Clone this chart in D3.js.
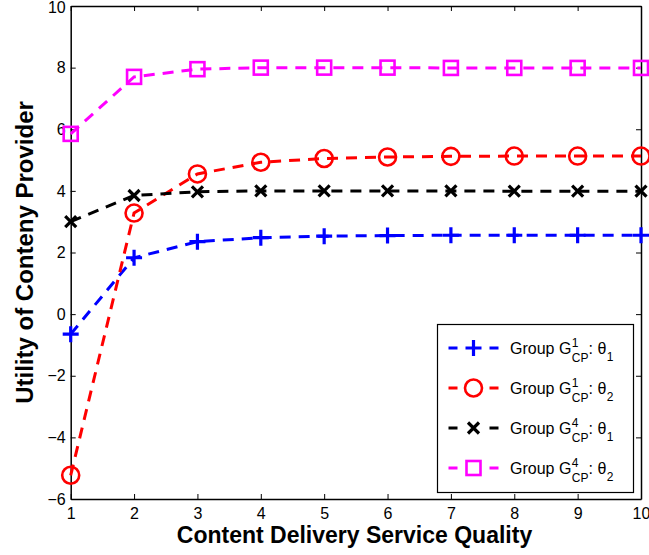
<!DOCTYPE html>
<html>
<head>
<meta charset="utf-8">
<script src="https://cdn.jsdelivr.net/npm/d3@7"></script>
<style>
  html, body { margin: 0; padding: 0; background: #fff; }
  svg { display: block; font-family: "Liberation Sans", Arial, Helvetica, sans-serif; }
</style>
</head>
<body>
<svg id="chart" width="649" height="555"></svg>
<script>
// Service quality levels on the x axis
const quality = [1, 2, 3, 4, 5, 6, 7, 8, 9, 10];

// Utility of the content provider for each group / type
const g1Theta1 = [-0.65, 1.83, 2.35, 2.48, 2.53, 2.55, 2.56, 2.56, 2.56, 2.56];
const g1Theta2 = [-5.23, 3.28, 4.55, 4.93, 5.05, 5.10, 5.12, 5.13, 5.13, 5.13];
const g4Theta1 = [3.00, 3.85, 3.97, 4.00, 4.00, 4.00, 4.00, 3.99, 3.99, 3.99];
const g4Theta2 = [5.85, 7.70, 7.95, 8.00, 8.00, 8.00, 7.99, 7.99, 7.99, 7.99];

const xTicks = [1, 2, 3, 4, 5, 6, 7, 8, 9, 10];
const yTicks = [-6, -4, -2, 0, 2, 4, 6, 8, 10];

const series = [
  { values: g1Theta1, color: "#0000ff", marker: "plus",   sup: "1", sub: "1" },
  { values: g1Theta2, color: "#ff0000", marker: "circle", sup: "1", sub: "2" },
  { values: g4Theta1, color: "#000000", marker: "cross",  sup: "4", sub: "1" },
  { values: g4Theta2, color: "#ff00ff", marker: "square", sup: "4", sub: "2" }
];

const svg = d3.select("#chart");
const plot = { left: 70.7, right: 641, top: 6, bottom: 499 };

const x = d3.scaleLinear().domain([1, 10]).range([plot.left, plot.right]);
const y = d3.scaleLinear().domain([-6, 10]).range([plot.bottom, plot.top]);

// Axes with inward ticks on all four sides (boxed frame)
const tickLen = 5;
const axisFont = "16px";

const bottomAxis = svg.append("g")
  .attr("transform", `translate(0,${plot.bottom})`)
  .call(d3.axisBottom(x).tickValues(xTicks).tickSizeInner(-tickLen).tickSizeOuter(0).tickPadding(9).tickFormat(d3.format("d")));
const topAxis = svg.append("g")
  .attr("transform", `translate(0,${plot.top})`)
  .call(d3.axisTop(x).tickValues(xTicks).tickSizeInner(-tickLen).tickSizeOuter(0).tickFormat(""));
const leftAxis = svg.append("g")
  .attr("transform", `translate(${plot.left},0)`)
  .call(d3.axisLeft(y).tickValues(yTicks).tickSizeInner(-tickLen).tickSizeOuter(0).tickPadding(5)
    .tickFormat(d => d < 0 ? "\u2212" + Math.abs(d) : String(d)));
const rightAxis = svg.append("g")
  .attr("transform", `translate(${plot.right},0)`)
  .call(d3.axisRight(y).tickValues(yTicks).tickSizeInner(-tickLen).tickSizeOuter(0).tickFormat(""));

[bottomAxis, topAxis, leftAxis, rightAxis].forEach(g => {
  g.select(".domain").attr("stroke", "#000").attr("stroke-width", 1.5);
  g.selectAll(".tick line").attr("stroke", "#000").attr("stroke-width", 1);
  g.selectAll(".tick text").attr("fill", "#000").style("font-size", axisFont)
    .style("font-family", "'Liberation Sans', Arial, sans-serif");
});
bottomAxis.selectAll(".tick text").attr("dy", "0.71em");
// keep the topmost label inside the page
leftAxis.selectAll(".tick").filter(d => d === 10).select("text").attr("dy", "0.42em");

// Axis titles
svg.append("text")
  .attr("x", 354.5)
  .attr("y", 543)
  .attr("text-anchor", "middle")
  .style("font-size", "23px").style("font-weight", "bold")
  .text("Content Delivery Service Quality");

svg.append("text")
  .attr("transform", `translate(33,${(plot.top + plot.bottom) / 2}) rotate(-90)`)
  .attr("text-anchor", "middle")
  .style("font-size", "24px").style("font-weight", "bold")
  .text("Utility of Conteny Provider");

// Marker drawing helper
function drawMarker(g, type, color) {
  const sw = 2.6;
  if (type === "plus") {
    g.append("path").attr("d", "M-8,0H8M0,-8V8").attr("stroke", color).attr("stroke-width", 3.2).attr("fill", "none");
  } else if (type === "circle") {
    g.append("circle").attr("r", 8.5).attr("stroke", color).attr("stroke-width", sw).attr("fill", "none");
  } else if (type === "cross") {
    g.append("path").attr("d", "M-5.5,-5.5L5.5,5.5M-5.5,5.5L5.5,-5.5").attr("stroke", color).attr("stroke-width", 3.2).attr("fill", "none");
  } else if (type === "square") {
    g.append("rect").attr("x", -7).attr("y", -7).attr("width", 14).attr("height", 14)
      .attr("stroke", color).attr("stroke-width", sw).attr("fill", "none");
  }
}

const line = d3.line().x((d, i) => x(quality[i])).y(d => y(d));
const dash = "11,8";

series.forEach(s => {
  const g = svg.append("g");
  g.append("path")
    .datum(s.values)
    .attr("d", line)
    .attr("fill", "none")
    .attr("stroke", s.color)
    .attr("stroke-width", 3)
    .attr("stroke-dasharray", dash);
  s.values.forEach((v, i) => {
    const m = g.append("g").attr("transform", `translate(${x(quality[i])},${y(v)})`);
    drawMarker(m, s.marker, s.color);
  });
});

// Legend
const legend = svg.append("g");
const lg = { x: 437.5, y: 324.5, w: 196, h: 168 };
legend.append("rect")
  .attr("x", lg.x).attr("y", lg.y).attr("width", lg.w).attr("height", lg.h)
  .attr("fill", "#fff").attr("stroke", "#000").attr("stroke-width", 1.2);

series.forEach((s, i) => {
  const cy = lg.y + 23.5 + i * 40;
  const row = legend.append("g");
  row.append("line")
    .attr("x1", lg.x + 11).attr("x2", lg.x + 61).attr("y1", cy).attr("y2", cy)
    .attr("stroke", s.color).attr("stroke-width", 3).attr("stroke-dasharray", "9,32,9");
  drawMarker(row.append("g").attr("transform", `translate(${lg.x + 36},${cy})`), s.marker, s.color);

  const tx = lg.x + 72.5;
  const base = cy + 5.5;
  const main = row.append("text").attr("x", tx).attr("y", base).style("font-size", "16px").text("Group G");
  const w1 = main.node().getComputedTextLength();
  const sup = row.append("text").attr("x", tx + w1 + 0.5).attr("y", base - 7).style("font-size", "12px").text(s.sup);
  const sub = row.append("text").attr("x", tx + w1 + 0.5).attr("y", base + 8.5).style("font-size", "12px").text("CP");
  const w2 = Math.max(sup.node().getComputedTextLength(), sub.node().getComputedTextLength());
  const colon = row.append("text").attr("x", tx + w1 + 0.5 + w2).attr("y", base).style("font-size", "16px").text(": \u03b8");
  const w3 = colon.node().getComputedTextLength();
  row.append("text").attr("x", tx + w1 + 0.5 + w2 + w3 + 0.5).attr("y", base + 7).style("font-size", "12px").text(s.sub);
});
</script>
</body>
</html>
